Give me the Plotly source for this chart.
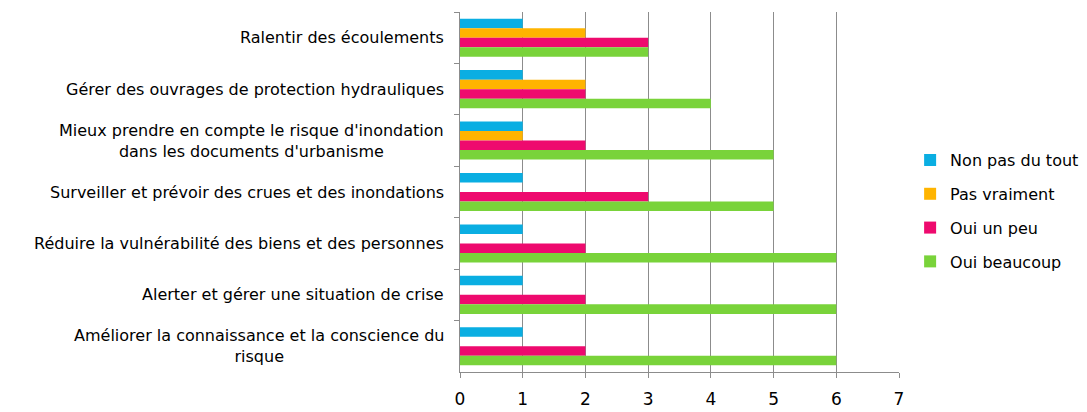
import plotly.graph_objects as go

categories = [
    "Ralentir des écoulements",
    "Gérer des ouvrages de protection hydrauliques",
    "Mieux prendre en compte le risque d'inondation<br>dans les documents d'urbanisme",
    "Surveiller et prévoir des crues et des inondations",
    "Réduire la vulnérabilité des biens et des personnes",
    "Alerter et gérer une situation de crise",
    "Améliorer la connaissance et la conscience du<br>risque",
]
series_names = ["Non pas du tout", "Pas vraiment", "Oui un peu", "Oui beaucoup"]
non_pas_du_tout = [1, 1, 1, 1, 1, 1, 1]
pas_vraiment = [2, 2, 1, 0, 0, 0, 0]
oui_un_peu = [3, 2, 2, 3, 2, 2, 2]
oui_beaucoup = [3, 4, 5, 5, 6, 6, 6]
colors = ["#0AAEE2", "#FFB400", "#EE0A6E", "#79D33A"]
x_ticks = [0, 1, 2, 3, 4, 5, 6, 7]

FONT = "DejaVu Sans"
fig = go.Figure()
for name, vals, col in zip(series_names,
                           [non_pas_du_tout, pas_vraiment, oui_un_peu, oui_beaucoup],
                           colors):
    fig.add_trace(go.Bar(y=categories, x=vals, name=name, orientation="h",
                         legendgroup=name,
                         marker=dict(color=col, line=dict(width=0))))

for c in categories:
    fig.add_annotation(x=0, xref="paper", y=c, yref="y", text=c, showarrow=False,
                       xanchor="right", xshift=-14, align="center",
                       font=dict(family=FONT, size=16, color="#000000"))

# the page body adds an 8px margin, so the figure is 8px smaller and shifted
fig.update_layout(
    width=1079, height=404,
    margin=dict(l=452, r=187, t=4, b=40),
    barmode="group", bargap=0.26, bargroupgap=0,
    plot_bgcolor="white", paper_bgcolor="white",
    font=dict(family=FONT, size=16, color="#000000"),
    legend=dict(x=1.023, xanchor="left", y=0.447, yanchor="middle",
                font=dict(family=FONT, size=16, color="#000000"),
                itemwidth=30, tracegroupgap=10, itemsizing="constant"),
    xaxis=dict(range=[0, 7], tickvals=x_ticks, showgrid=True, gridcolor="#8C8C8C",
               gridwidth=1, zeroline=False, showline=True, linecolor="#8C8C8C",
               ticks="outside", ticklen=5, tickcolor="#8C8C8C",
               ticklabelstandoff=7, automargin=False,
               tickfont=dict(family=FONT, size=17, color="#000000")),
    yaxis=dict(categoryorder="array", categoryarray=categories, autorange="reversed",
               showticklabels=False, showline=True, linecolor="#8C8C8C",
               ticks="outside", ticklen=5, tickcolor="#8C8C8C", tickson="boundaries",
               showgrid=False, zeroline=False, automargin=False),
)
fig.write_html("out.html")
